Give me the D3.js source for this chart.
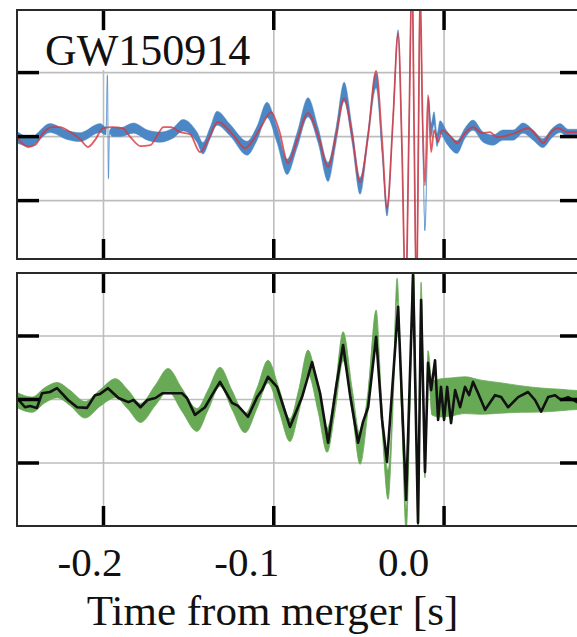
<!DOCTYPE html>
<html>
<head>
<meta charset="utf-8">
<script src="https://cdn.jsdelivr.net/npm/d3@7"></script>
<style>
  body { margin: 0; background: white; }
  text { font-family: "Liberation Serif", "Times New Roman", serif; }
</style>
</head>
<body>
<div id="chart"></div>
<script>
// time from merger [s] and whitened strain (in tick units)
// top panel: blue band (detector data) and red reconstruction
var tBlue = [-0.2505, -0.2429, -0.2311, -0.2211, -0.2135, -0.2017, -0.1982, -0.1974, -0.1968, -0.1962, -0.1945, -0.1898,
  -0.1821, -0.1739, -0.1663, -0.1589, -0.1530, -0.1448, -0.1413, -0.1371, -0.1330, -0.1254, -0.1154, -0.1095,
  -0.1037, -0.0978, -0.0919, -0.0860, -0.0796, -0.0737, -0.0678, -0.0631, -0.0584, -0.0537, -0.0490, -0.0443,
  -0.0396, -0.0361, -0.0332, -0.0297, -0.0267, -0.0244, -0.0223, -0.0203, -0.0185, -0.0173, -0.0159, -0.0147,
  -0.0138, -0.0123, -0.0109, -0.0097, -0.0088, -0.0073, -0.0056, -0.0038, -0.0021, 0.0021, 0.0079, 0.0126,
  0.0173, 0.0232, 0.0291, 0.0349, 0.0408, 0.0467, 0.0526, 0.0584, 0.0637, 0.0684, 0.0731, 0.0784, 0.0831];
var hBlue = [-0.016, -0.094, 0.125, 0.016, -0.016, 0.125, 0.078, 0.95, -0.66, 0.0625, 0.0625, 0.0625,
  0.125, 0.016, -0.016, 0.047, 0.17, -0.016, -0.19, 0.047, 0.28, 0.094, -0.19, 0.047,
  0.41, 0.016, -0.48, -0.0625, 0.45, 0.016, -0.56, 0.016, 0.69, 0.016, -0.78, 0.016,
  0.875, -0.22, -1.16, 0.25, 1.61, -0.22, -2.56, 0.094, 2.59, 0.094, -2.56, 0.094,
  2.28, 0.094, -1.44, -0.375, 0.56, 0.094, 0.28, -0.0625, 0.14, -0.03, -0.17, 0.047,
  0.17, -0.016, -0.0625, 0.016, 0.016, 0.125, 0.016, -0.11, 0.047, 0.125, 0.047, 0.047, 0.047];
var wBlue = [0.09, 0.07, 0.07, 0.07, 0.07, 0.07, 0.06, 0.012, 0.012, 0.02, 0.07, 0.07,
  0.08, 0.08, 0.08, 0.08, 0.09, 0.08, 0.09, 0.09, 0.11, 0.09, 0.11, 0.11,
  0.12, 0.12, 0.12, 0.12, 0.15, 0.12, 0.15, 0.12, 0.15, 0.12, 0.13, 0.07,
  0.12, 0.07, 0.09, 0.05, 0.05, 0.025, 0.025, 0.025, 0.025, 0.025, 0.025, 0.025,
  0.025, 0.025, 0.04, 0.05, 0.05, 0.1, 0.1, 0.1, 0.1, 0.1, 0.1, 0.08,
  0.08, 0.08, 0.08, 0.08, 0.08, 0.08, 0.08, 0.07, 0.07, 0.07, 0.06, 0.06, 0.06];

var tRed = [-0.2505, -0.2476, -0.2440, -0.2399, -0.2352, -0.2299, -0.2252, -0.2193, -0.2135, -0.2088, -0.2047, -0.2000,
  -0.1945, -0.1886, -0.1839, -0.1780, -0.1721, -0.1680, -0.1645, -0.1600, -0.1548, -0.1489, -0.1430, -0.1383,
  -0.1325, -0.1272, -0.1225, -0.1166, -0.1119, -0.1066, -0.1013, -0.0966, -0.0913, -0.0860, -0.0796, -0.0737,
  -0.0678, -0.0631, -0.0584, -0.0537, -0.0490, -0.0443, -0.0396, -0.0361, -0.0332, -0.0297, -0.0267, -0.0244,
  -0.0223, -0.0203, -0.0185, -0.0173, -0.0159, -0.0147, -0.0138, -0.0123, -0.0109, -0.0091, -0.0073, -0.0056,
  -0.0032, -0.0009, 0.0021, 0.0050, 0.0079, 0.0126, 0.0173, 0.0226, 0.0273, 0.0314, 0.0361, 0.0420,
  0.0496, 0.0543, 0.0584, 0.0626, 0.0673, 0.0725, 0.0784, 0.0831];
var hRed = [-0.01, -0.11, -0.17, -0.14, 0.047, 0.14, 0.14, 0.0625, -0.047, -0.17, -0.0625, 0.125,
  0.14, 0.125, -0.016, -0.156, -0.14, 0.016, 0.14, 0.14, 0.0625, 0.031, -0.25, -0.0625,
  0.22, 0.125, -0.016, -0.19, -0.0625, 0.17, 0.375, 0.094, -0.42, -0.0625, 0.36, 0.016,
  -0.48, 0.016, 0.59, 0.016, -0.72, 0.016, 1.02, -0.0625, -1.125, 0.25, 1.61, -0.22,
  -2.56, 0.094, 2.59, 0.094, -2.56, 0.094, 2.28, 0.25, -0.77, 0.64, -0.25, 0.094,
  -0.094, 0.094, 0.047, -0.03, -0.11, 0.047, 0.14, 0.047, 0.0625, -0.016, 0, 0.047,
  0.125, 0.016, -0.11, 0.047, 0.125, 0.0625, 0.0625, 0.0625];

// bottom panel: green band and black line
var tBlack = [-0.2505, -0.2458, -0.2429, -0.2388, -0.2358, -0.2311, -0.2270, -0.2205, -0.2152, -0.2094, -0.2047, -0.2017,
  -0.1971, -0.1909, -0.1851, -0.1821, -0.1780, -0.1739, -0.1692, -0.1651, -0.1595, -0.1536, -0.1507, -0.1460,
  -0.1401, -0.1360, -0.1313, -0.1242, -0.1207, -0.1148, -0.1095, -0.1066, -0.1031, -0.0978, -0.0902, -0.0831,
  -0.0772, -0.0725, -0.0678, -0.0631, -0.0590, -0.0549, -0.0502, -0.0473, -0.0443, -0.0396, -0.0361, -0.0332,
  -0.0267, -0.0220, -0.0179, -0.0150, -0.0132, -0.0109, -0.0091, -0.0073, -0.0050, -0.0032, -0.0015, 0.0003,
  0.0021, 0.0044, 0.0068, 0.0097, 0.0126, 0.0150, 0.0173, 0.0203, 0.0244, 0.0302, 0.0338, 0.0379,
  0.0438, 0.0496, 0.0537, 0.0573, 0.0614, 0.0655, 0.0690, 0.0731, 0.0784, 0.0831];
var hBlack = [0.016, -0.13, -0.11, -0.14, 0.09, 0.11, 0.17, -0.016, -0.13, -0.14, 0.06, 0.08,
  0.17, 0.016, -0.05, -0.016, -0.13, -0.016, 0.016, 0.09, 0.09, 0.09, 0.016, -0.25,
  -0.13, 0.06, 0.27, -0.06, -0.11, -0.28, 0.03, 0.14, 0.35, 0.19, -0.44, 0.03,
  0.58, 0.09, -0.69, 0.19, 0.85, 0.06, -0.69, -0.36, -0.13, 0.98, -0.33, -0.99,
  1.45, -1.59, 1.95, -1.95, 1.56, -1.15, 0.57, 0.14, 0.61, -0.33, 0.19, -0.33,
  0.19, -0.38, 0.14, -0.13, 0.19, 0.06, 0.27, 0.09, -0.17, 0.06, 0.03, -0.13,
  0.03, 0.11, -0.016, -0.20, 0.03, 0.06, -0.016, 0.03, -0.05, -0.016];

var tGreen = [-0.2505, -0.2417, -0.2341, -0.2270, -0.2193, -0.2106, -0.2017, -0.1927, -0.1851, -0.1780, -0.1692, -0.1618,
  -0.1536, -0.1448, -0.1383, -0.1313, -0.1242, -0.1166, -0.1095, -0.1031, -0.0966, -0.0902, -0.0849, -0.0796,
  -0.0737, -0.0684, -0.0637, -0.0590, -0.0537, -0.0490, -0.0443, -0.0396, -0.0361, -0.0326, -0.0297, -0.0273,
  -0.0244, -0.0220, -0.0197, -0.0179, -0.0162, -0.0150, -0.0132, -0.0109, -0.0091, -0.0068, -0.0021, 0.0038,
  0.0126, 0.0214, 0.0332, 0.0449, 0.0567, 0.0684, 0.0784, 0.0831];
var hGreen = [-0.016, -0.09, 0.06, 0.14, 0.016, -0.17, 0.016, 0.17, -0.016, -0.22, 0.06, 0.30,
  -0.016, -0.33, -0.016, 0.35, -0.016, -0.38, 0.016, 0.43, -0.016, -0.49, -0.016, 0.58,
  -0.016, -0.65, -0.016, 0.83, -0.016, -0.80, -0.016, 1.17, -0.33, -1.35, -0.016, 1.72,
  -0.33, -1.91, -0.016, 2.19, -0.016, -2.06, 1.72, -1.12, 0.61, 0.016, 0.016, 0.03,
  0.06, 0.03, 0.016, 0, -0.016, -0.016, -0.016, -0.016];
var wGreen = [0.12, 0.12, 0.12, 0.12, 0.12, 0.13, 0.13, 0.15, 0.15, 0.15, 0.16, 0.18,
  0.18, 0.18, 0.16, 0.15, 0.15, 0.15, 0.16, 0.18, 0.18, 0.18, 0.18, 0.19,
  0.18, 0.19, 0.18, 0.23, 0.18, 0.23, 0.15, 0.23, 0.15, 0.23, 0.12, 0.18,
  0.09, 0.18, 0.08, 0.15, 0.08, 0.15, 0.12, 0.12, 0.15, 0.27, 0.30, 0.30,
  0.29, 0.27, 0.24, 0.21, 0.19, 0.17, 0.15, 0.15];

var xTicks = [-0.2, -0.1, 0.0];
var xTickLabels = ["-0.2", "-0.1", "0.0"];
var yTicks = [-1, 0, 1];
var titleText = "GW150914";
var xLabelText = "Time from merger [s]";

var W = 577, H = 637;
var svg = d3.select("#chart").append("svg")
  .attr("width", W)
  .attr("height", H);

var x = d3.scaleLinear().domain([-0.2505, 0.0813]).range([17, 582]);

var panels = [
  { top: 10, bottom: 259, domain: [-1.92, 1.97], id: "p1" },
  { top: 273, bottom: 526, domain: [-2.0, 1.984], id: "p2" }
];
panels.forEach(function(p) {
  p.y = d3.scaleLinear().domain(p.domain).range([p.bottom, p.top]);
  svg.append("clipPath").attr("id", "clip-" + p.id)
    .append("rect")
    .attr("x", x.range()[0]).attr("y", p.top)
    .attr("width", x.range()[1] - x.range()[0]).attr("height", p.bottom - p.top);
});

function zip(ts, hs, ws) {
  return ts.map(function(t, i) { return { t: t, h: hs[i], w: ws ? ws[i] : 0 }; });
}

// grid lines
panels.forEach(function(p) {
  var g = svg.append("g").attr("class", "grid");
  g.append("g")
    .attr("transform", "translate(0," + p.bottom + ")")
    .call(d3.axisBottom(x).tickValues(xTicks).tickSize(-(p.bottom - p.top)).tickFormat(""));
  g.append("g")
    .attr("transform", "translate(" + x.range()[0] + ",0)")
    .call(d3.axisLeft(p.y).tickValues(yTicks).tickSize(-(x.range()[1] - x.range()[0])).tickFormat(""));
  g.selectAll(".domain").remove();
  g.selectAll("line").attr("stroke", "#bdbdbd").attr("stroke-width", 1.6);
});

// top panel data
var p1 = panels[0];
var blueArea = d3.area()
  .x(function(d) { return x(d.t); })
  .y0(function(d) { return p1.y(d.h - d.w); })
  .y1(function(d) { return p1.y(d.h + d.w); })
  .curve(d3.curveMonotoneX);
var redLine = d3.line()
  .x(function(d) { return x(d.t); })
  .y(function(d) { return p1.y(d.h); })
  .curve(d3.curveMonotoneX);

var g1 = svg.append("g").attr("clip-path", "url(#clip-p1)");
g1.append("path")
  .attr("d", blueArea(zip(tBlue, hBlue, wBlue)))
  .attr("fill", "#4a87c4")
  .attr("stroke", "#4a87c4")
  .attr("stroke-width", 0.8)
  .attr("stroke-opacity", 0.6);
g1.append("path")
  .attr("d", redLine(zip(tRed, hRed)))
  .attr("fill", "none")
  .attr("stroke", "#d8343b")
  .attr("stroke-width", 1.8)
  .attr("stroke-opacity", 0.8);

// bottom panel data
var p2 = panels[1];
var greenArea = d3.area()
  .x(function(d) { return x(d.t); })
  .y0(function(d) { return p2.y(d.h - d.w); })
  .y1(function(d) { return p2.y(d.h + d.w); })
  .curve(d3.curveMonotoneX);
var blackLine = d3.line()
  .x(function(d) { return x(d.t); })
  .y(function(d) { return p2.y(d.h); });

var g2 = svg.append("g").attr("clip-path", "url(#clip-p2)");
g2.append("path")
  .attr("d", greenArea(zip(tGreen, hGreen, wGreen)))
  .attr("fill", "#68a955")
  .attr("stroke", "#68a955")
  .attr("stroke-width", 0.8);
g2.append("path")
  .attr("d", blackLine(zip(tBlack, hBlack)))
  .attr("fill", "none")
  .attr("stroke", "#111")
  .attr("stroke-width", 2.6)
  .attr("stroke-linejoin", "round");

// title with white box behind it
svg.append("rect")
  .attr("x", 40).attr("y", 31)
  .attr("width", 222).attr("height", 39)
  .attr("fill", "white");
svg.append("text")
  .attr("x", 45).attr("y", 65)
  .attr("font-size", 44)
  .attr("fill", "#111")
  .text(titleText);

// inward ticks on every side
panels.forEach(function(p) {
  var g = svg.append("g").attr("class", "ticks");
  g.append("g").attr("transform", "translate(0," + p.top + ")")
    .call(d3.axisTop(x).tickValues(xTicks).tickSize(-20).tickFormat(""));
  g.append("g").attr("transform", "translate(0," + p.bottom + ")")
    .call(d3.axisBottom(x).tickValues(xTicks).tickSize(-20).tickFormat(""));
  g.append("g").attr("transform", "translate(" + x.range()[0] + ",0)")
    .call(d3.axisLeft(p.y).tickValues(yTicks).tickSize(-22).tickFormat(""));
  g.append("g").attr("transform", "translate(" + x.range()[1] + ",0)")
    .call(d3.axisRight(p.y).tickValues(yTicks).tickSize(-22).tickFormat(""));
  g.selectAll(".domain").remove();
  g.selectAll("line").attr("stroke", "#000").attr("stroke-width", 3.5);

  svg.append("rect")
    .attr("x", x.range()[0]).attr("y", p.top)
    .attr("width", x.range()[1] - x.range()[0]).attr("height", p.bottom - p.top)
    .attr("fill", "none")
    .attr("stroke", "#2a2a2a")
    .attr("stroke-width", 2);
});

// tick labels (placed as in the source figure)
var labelScale = d3.scaleLinear().domain([-0.2, 0]).range([89.5, 403]);
var lab = svg.append("g")
  .attr("transform", "translate(0,544)")
  .call(d3.axisBottom(labelScale).tickValues(xTicks).tickSize(0).tickPadding(0)
    .tickFormat(function(d, i) { return xTickLabels[i]; }));
lab.select(".domain").remove();
lab.selectAll("text")
  .attr("dy", "0.78em")
  .attr("font-size", 41)
  .attr("font-family", "Liberation Serif, serif")
  .attr("fill", "#111");

svg.append("text")
  .attr("x", 272.5).attr("y", 625)
  .attr("text-anchor", "middle")
  .attr("font-size", 43)
  .attr("fill", "#111")
  .text(xLabelText);
</script>
</body>
</html>
